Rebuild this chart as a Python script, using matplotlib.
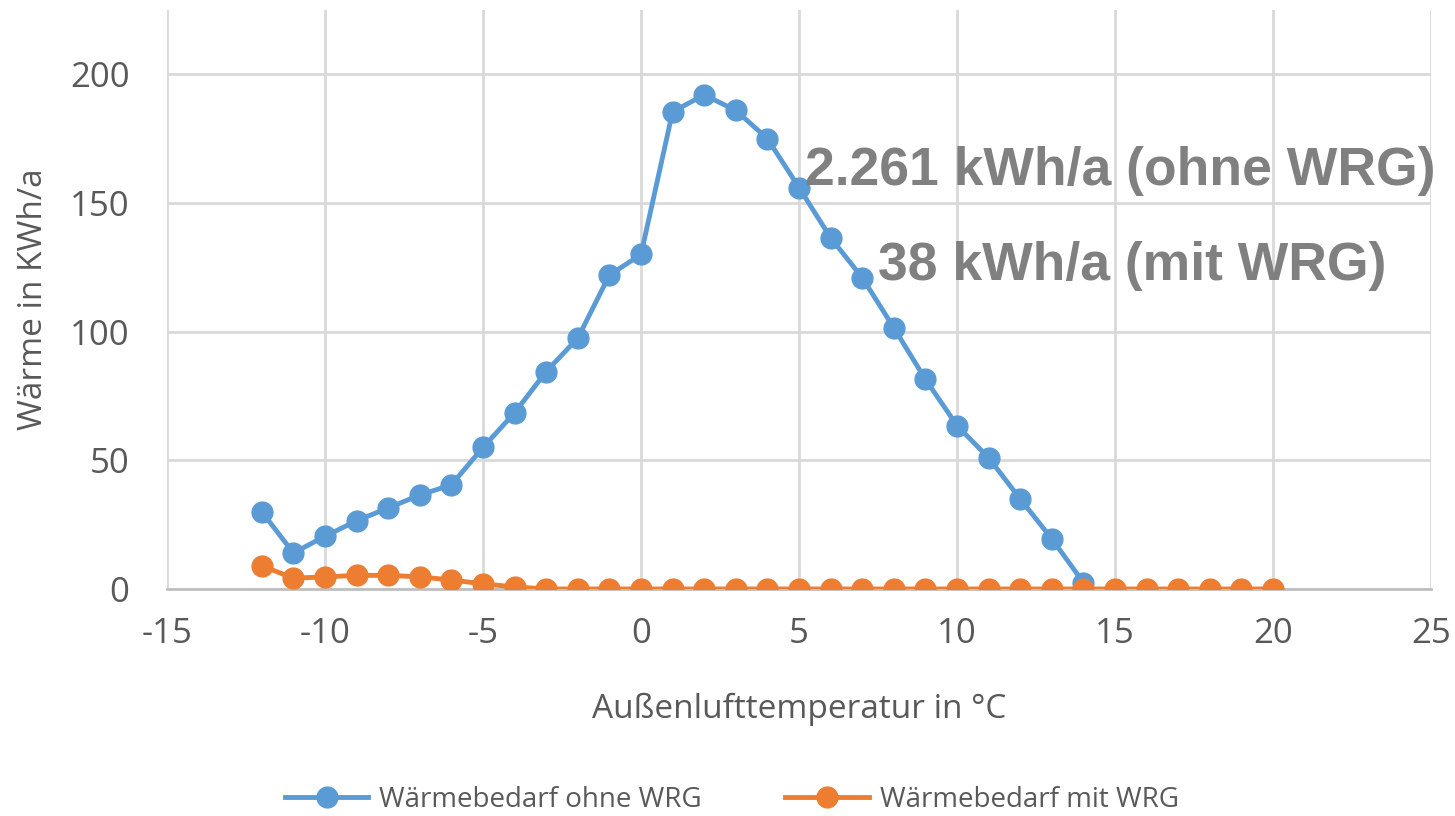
import matplotlib
matplotlib.use("Agg")
import matplotlib.pyplot as plt

# Außenlufttemperatur in °C
temp_ohne = list(range(-12, 15))
temp_mit = list(range(-12, 21))

# Wärmebedarf in kWh/a je Temperatur
waerme_ohne = [30, 14, 20.5, 26.5, 31.5, 36.5, 40.5, 55, 68.5, 84.5, 97.5, 122, 130,
               185.5, 192, 186, 175, 156, 136.5, 121, 101.5, 81.5, 63.5, 51, 35, 19.5, 2.5]
waerme_mit = [9, 4.2, 4.7, 5.3, 5.3, 4.7, 3.5, 2, 0.8] + [0] * 24

x_ticks = [-15, -10, -5, 0, 5, 10, 15, 20, 25]
y_ticks = [0, 50, 100, 150, 200]

blau = "#5B9BD5"
orange = "#ED7D31"
grau = "#595959"

plt.rcParams["font.family"] = ["Open Sans", "DejaVu Sans"]
plt.rcParams["axes.unicode_minus"] = False

fig = plt.figure(figsize=(14.55, 8.16), dpi=100)
ax = fig.add_axes([0.1148, 0.2782, 0.8687, 0.7095])

ax.plot(temp_ohne, waerme_ohne, color=blau, lw=3.5, marker="o", ms=15,
        label="Wärmebedarf ohne WRG", zorder=3)
ax.plot(temp_mit, waerme_mit, color=orange, lw=3.5, marker="o", ms=15,
        label="Wärmebedarf mit WRG", zorder=4)

ax.set_xlim(-15, 25)
ax.set_ylim(0, 225)
ax.set_xticks(x_ticks)
ax.set_yticks(y_ticks)
ax.grid(True, color="#D9D9D9", lw=2)
ax.set_axisbelow(True)
for side in ["left", "right", "top"]:
    ax.spines[side].set_visible(False)
ax.spines["bottom"].set_color("#BFBFBF")
ax.spines["bottom"].set_linewidth(2)
ax.spines["bottom"].set_zorder(2)
ax.tick_params(length=0, labelsize=25, labelcolor=grau)
ax.tick_params(axis="x", pad=20)
ax.tick_params(axis="y", pad=27)

ax.set_xlabel("Außenlufttemperatur in °C", fontsize=24, color=grau, labelpad=30)
ax.set_ylabel("Wärme in KWh/a", fontsize=24, color=grau, labelpad=14)

ax.text(5.2, 157, "2.261 kWh/a (ohne WRG)", fontsize=38.5, fontweight="bold",
        color="#808080", family="Liberation Sans", va="baseline", zorder=5)
ax.text(7.5, 120, "38 kWh/a (mit WRG)", fontsize=38.5, fontweight="bold",
        color="#808080", family="Liberation Sans", va="baseline", zorder=5)

fig.legend(loc="center", bbox_to_anchor=(0.503, 0.02), ncol=2, frameon=False,
           fontsize=20, labelcolor=grau, handlelength=3, handletextpad=0.4,
           columnspacing=3.0)

fig.savefig("out.png", dpi=100)
